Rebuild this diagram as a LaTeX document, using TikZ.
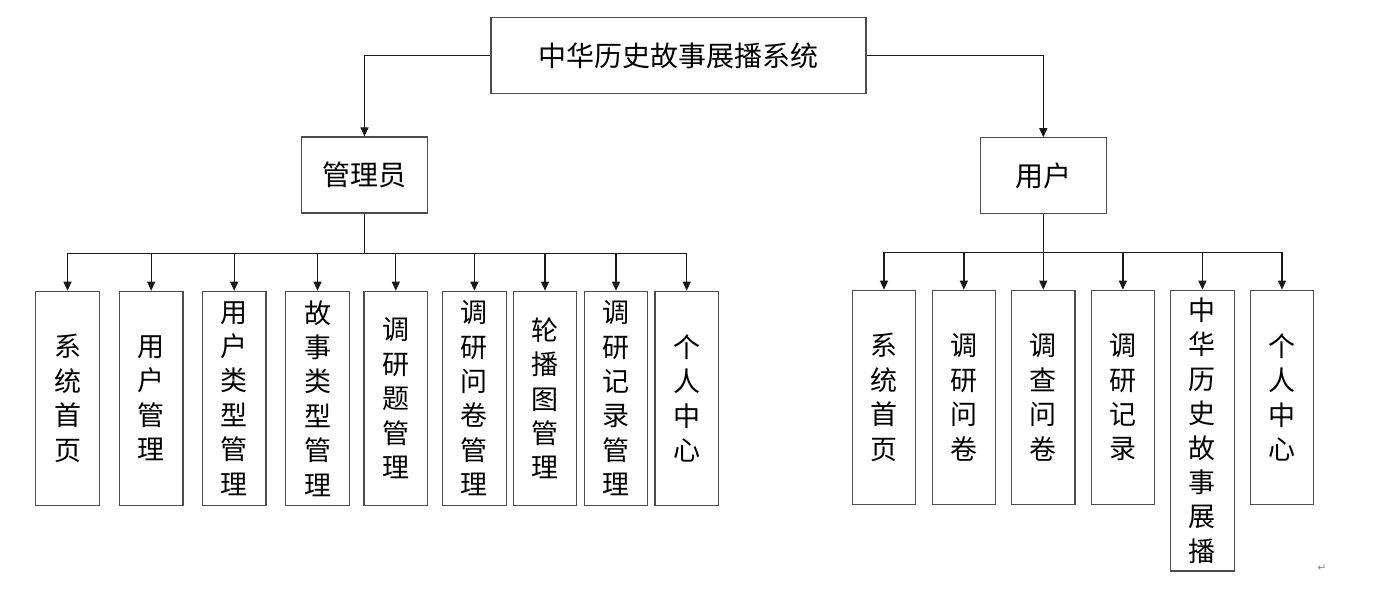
\documentclass[tikz,border=0pt]{standalone}
\usepackage{fontspec}
\setmainfont{Noto Sans CJK SC}
\newfontfamily\symfont{DejaVu Sans}
\usetikzlibrary{arrows.meta}

\begin{document}
\begin{tikzpicture}[x=1pt,y=-1pt,->,>={Triangle[width=8pt,length=9pt]},
  box/.style={draw=black!70,line width=1.3pt,fill=white,inner sep=0pt},
  head/.style={box,minimum width=126pt,minimum height=76pt,font=\fontsize{28}{33}\selectfont},
  col/.style={box,anchor=north,minimum width=63.5pt,minimum height=214pt,inner ysep=7.5pt,align=center,font=\fontsize{27}{34.4}\selectfont},
  every edge/.style={draw,black!90,line width=1.2pt},
  elbow/.style={to path={-| (\tikztotarget)}},
  abus/.style={to path={-- ++(0,39.7) -| (\tikztotarget)}},
  ubus/.style={to path={-- ++(0,38) -| (\tikztotarget)}}]
          \useasboundingbox (0,0) rectangle (1384,591);

          \node (sys) [head,minimum width=375pt] at (678.5,55.5) {中华历史故事展播系统};
          \node (admin) [head] at (364.5,175) {管理员};
          \node (user) [head] at (1043.3,175.8) {用户};

          % admin side
          \node (a1) [col] at (67.5,290.7) {系\\统\\首\\页};
          \node (a2) [col] at (151.2,290.7) {用\\户\\管\\理};
          \node (a3) [col] at (234.2,290.7) {用\\户\\类\\型\\管\\理};
          \node (a4) [col] at (317.5,290.7) {故\\事\\类\\型\\管\\理};
          \node (a5) [col] at (395.8,290.7) {调\\研\\题\\管\\理};
          \node (a6) [col] at (474.4,290.7) {调\\研\\问\\卷\\管\\理};
          \node (a7) [col] at (545,290.7) {轮\\播\\图\\管\\理};
          \node (a8) [col] at (616,290.7) {调\\研\\记\\录\\管\\理};
          \node (a9) [col] at (686.7,290.7) {个\\人\\中\\心};

          % user side
          \node (u1) [col] at (884,289.7) {系\\统\\首\\页};
          \node (u2) [col] at (963.9,289.7) {调\\研\\问\\卷};
          \node (u3) [col] at (1043.3,289.7) {调\\查\\问\\卷};
          \node (u4) [col] at (1122.9,289.7) {调\\研\\记\\录};
          \node (u5) [col] at (1202.4,289.7) {中\\华\\历\\史\\故\\事\\展\\播};
          \node (u6) [col] at (1282,289.7) {个\\人\\中\\心};

          \node (ret) [text=black!45,font=\symfont\fontsize{11}{11}\selectfont] at (1322,568) {↵};

		  \path
			(sys.west) edge[elbow] (admin.north)
			(sys.east) edge[elbow] (user.north)
			(admin.south) edge[abus] (a1.north)
			(admin.south) edge[abus] (a2.north)
			(admin.south) edge[abus] (a3.north)
			(admin.south) edge[abus] (a4.north)
			(admin.south) edge[abus] (a5.north)
			(admin.south) edge[abus] (a6.north)
			(admin.south) edge[abus] (a7.north)
			(admin.south) edge[abus] (a8.north)
			(admin.south) edge[abus] (a9.north)
			(user.south) edge[ubus] (u1.north)
			(user.south) edge[ubus] (u2.north)
			(user.south) edge[ubus] (u3.north)
			(user.south) edge[ubus] (u4.north)
			(user.south) edge[ubus] (u5.north)
			(user.south) edge[ubus] (u6.north);

        \end{tikzpicture}
\end{document}
